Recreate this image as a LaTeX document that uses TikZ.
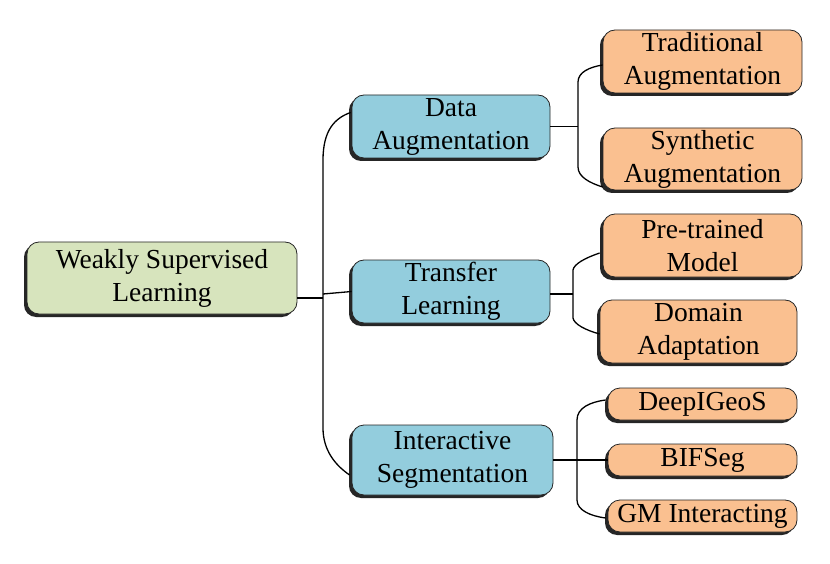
\documentclass[tikz,border=0pt]{standalone}
\usepackage{fontspec}
\setmainfont{Liberation Serif}
\usetikzlibrary{shadows,calc}
\definecolor{rootfill}{HTML}{D7E4BD}
\definecolor{midfill}{HTML}{93CDDD}
\definecolor{leaffill}{HTML}{FAC090}
\tikzset{
  box/.style={draw=black!85, line width=0.8pt, rounded corners=12pt, align=center,
    inner sep=0pt, font=\fontsize{27.5}{33}\selectfont,
    drop shadow={shadow xshift=-3pt, shadow yshift=-3pt, fill=black!85, opacity=1}},
  rootbox/.style={box, fill=rootfill},
  midbox/.style={box, fill=midfill},
  leafbox/.style={box, fill=leaffill},
  conn/.style={draw=black, line width=1.3pt}
}
\begin{document}
\begin{tikzpicture}[x=1pt,y=-1pt]
\useasboundingbox (0,0) rectangle (830,564);
% nodes
\node[rootbox, minimum width=270pt, minimum height=72pt] (root) at (162,278) {Weakly Supervised\\Learning};
\node[midbox, minimum width=198pt, minimum height=63pt] (da) at (451,126.5) {Data\\Augmentation};
\node[midbox, minimum width=198pt, minimum height=63pt] (tl) at (451,291.5) {Transfer\\Learning};
\node[midbox, minimum width=201pt, minimum height=70pt] (is) at (452.5,460) {Interactive\\Segmentation};
\node[leafbox, minimum width=199pt, minimum height=63pt] (tr) at (702.5,61.5) {Traditional\\Augmentation};
\node[leafbox, minimum width=199pt, minimum height=62pt] (sy) at (702.5,159) {Synthetic\\Augmentation};
\node[leafbox, minimum width=199pt, minimum height=63pt] (pt) at (702.5,245.5) {Pre-trained\\Model};
\node[leafbox, minimum width=197pt, minimum height=63pt] (dm) at (698.5,331.5) {Domain\\Adaptation};
\node[leafbox, minimum width=189pt, minimum height=32pt] (dg) at (702.5,404) {DeepIGeoS};
\node[leafbox, minimum width=189pt, minimum height=32pt] (bf) at (702.5,460) {BIFSeg};
\node[leafbox, minimum width=189pt, minimum height=32pt] (gm) at (702.5,516) {GM Interacting};
% root connectors
\coordinate (r0) at ($(root.east)+(0,20)$);
\coordinate (j0) at (323,298);
\draw[conn] (r0) -- (j0);
\draw[conn] ($(da.west)+(-1,-14)$) .. controls (335,118) and (323,130) .. (323,160)
  -- (323,428) .. controls (323,450) and (335,465) .. ($(is.west)+(-2,15)$);
\draw[conn] (323,294) -- (tl.west);
% data augmentation
\draw[conn] (da.east) -- (578,126.5);
\draw[conn] ($(tr.west)+(0,3.5)$) .. controls (590,67) and (578,72) .. (578,82)
  -- (578,167) .. controls (578,177) and (590,183) .. ($(sy.west)+(0,28)$);
% transfer learning
\draw[conn] (tl.east |- 0,294) -- (573,294);
\draw[conn] ($(pt.west)+(-3,7.5)$) .. controls (585,258) and (574,264) .. (573,270)
  -- (573,318) .. controls (574,324) and (585,330) .. ($(dm.west)+(0,2.5)$);
% interactive segmentation
\draw[conn] (is.east) -- (577,460);
\draw[conn] ($(dg.west)+(-2,-4)$) .. controls (590,402) and (577,408) .. (577,420)
  -- (577,500) .. controls (577,510) and (590,516) .. ($(gm.west)+(-2,2)$);
\draw[conn] (577,460) -- (bf.west);
\end{tikzpicture}
\end{document}
